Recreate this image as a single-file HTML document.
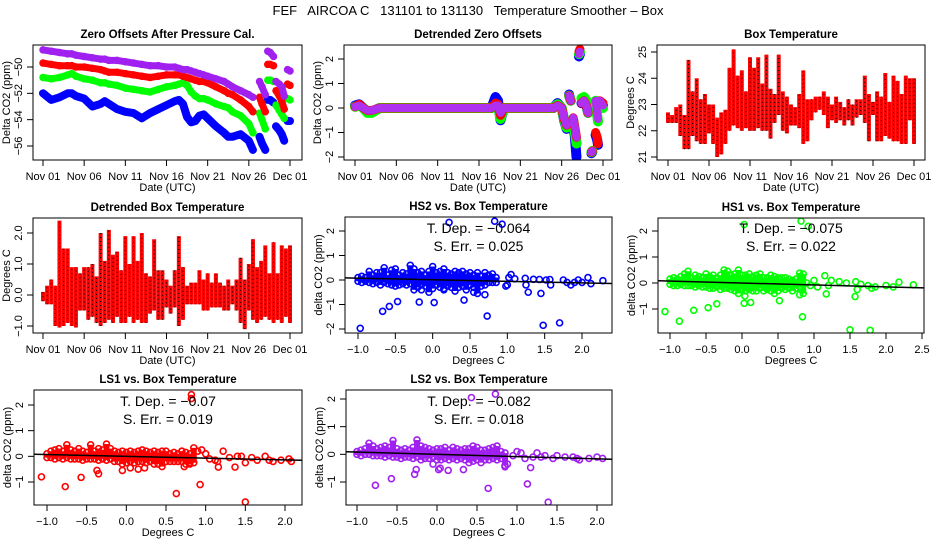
<!DOCTYPE html>
<html><head><meta charset="utf-8"><style>
body{margin:0;background:#fff;}
svg{display:block;font-family:"Liberation Sans",sans-serif;}
</style></head><body>
<svg id="chartsvg" width="936" height="540" viewBox="0 0 936 540">
<rect width="936" height="540" fill="#fff"/>
<text x="468" y="15" font-size="13" text-anchor="middle" style="white-space:pre" xml:space="preserve">FEF   AIRCOA C   131101 to 131130   Temperature Smoother – Box</text>
</svg>
<script>
// ---------- data ----------
const fefDateTicks=[0,5,10,15,20,25,30];
const fefDateLabels=["Nov 01","Nov 06","Nov 11","Nov 16","Nov 21","Nov 26","Dec 01"];
const p1Days=[0,1,2,3,3.5,4,5,6,7,7.5,8,9,10,11,12,13,14,15,16,16.5,17,17.5,18,18.5,19,19.5,20,21,22,22.5,23,24,25,25.5,null,26.3,26.6,27,null,27.3,27.6,28,null,28.3,28.7,29,29.3,null,29.7,30];
const p1Purple=[-48.7,-48.8,-48.9,-49,-49,-49.1,-49.2,-49.3,-49.4,-49.4,-49.5,-49.5,-49.6,-49.7,-49.8,-49.9,-49.9,-50,-50,-50.1,-50.2,-50.2,-50.3,-50.4,-50.5,-50.6,-50.7,-50.9,-51.1,-51.3,-51.5,-51.8,-52.1,-52.3,null,-51.1,-51.5,-52.1,null,-48.8,-48.9,-49.2,null,-51.1,-51.3,-51.5,-52.2,null,-50.2,-50.3];
const p1Red=[-49.7,-49.8,-49.9,-49.9,-49.9,-50,-50,-50.1,-50.2,-50.3,-50.4,-50.4,-50.5,-50.6,-50.7,-50.8,-50.7,-50.6,-50.6,-50.6,-50.7,-50.8,-50.9,-51,-51.1,-51.1,-51.2,-51.5,-51.8,-52,-52.1,-52.5,-53,-53.4,null,-52.3,-52.8,-53.4,null,-49.8,-49.8,-49.9,null,-51.8,-52.2,-52.6,-53.2,null,-51.3,-51.4];
const p1Green=[-50.8,-50.9,-50.8,-50.6,-50.5,-50.7,-50.9,-51,-51.2,-51.2,-51.3,-51.4,-51.6,-51.7,-51.8,-51.9,-51.7,-51.5,-51.4,-51.3,-51.2,-51.4,-51.9,-52.2,-52.4,-52.4,-52.5,-52.8,-53,-53.1,-53.4,-53.7,-54.3,-55,null,-53.5,-54,-54.7,null,-51,-51,-51.1,null,-52.9,-53.3,-53.6,-53.9,null,-52.4,-52.5];
const p1Blue=[-52,-52.5,-52.3,-52,-52,-52.2,-52.4,-53,-52.8,-52.6,-52.8,-53.2,-53.4,-53.5,-53.9,-53.5,-53.2,-52.9,-52.6,-52.5,-52.8,-53.8,-54.2,-54.1,-53.7,-53.6,-53.9,-54.5,-55,-55.3,-55.3,-55.1,-55.6,-56.3,null,-55.3,-55.8,-56.3,null,-52.5,-52.5,-52.7,null,-54.5,-54.8,-55.1,-55.6,null,-54.1,-54.1];

const p2Days=[0,0.5,1,1.5,2,3,4,5,6,7,8,9,10,11,12,13,14,15,16,16.5,17,17.3,17.6,18,19,20,21,22,23,24,24.5,25,25.3,25.6,null,25.9,26,26.1,null,26.4,26.6,26.8,null,27.1,27.2,null,27.4,27.7,28,28.2,null,28.6,28.7,null,29.1,29.3,29.4,null,29.6,30];
const p2Purple=[0.05,0.1,0,-0.1,-0.1,0,0,0,0,0,0,0,0,0,0,0,0,0,0,0,0.1,0.1,-0.2,0,0,0,0,0,0,0,0.1,0,-0.4,-0.7,null,0.5,0.4,0.3,null,-0.4,-0.8,-1.2,null,2.2,2.3,null,0.2,0.3,0.1,-0.2,null,-1.8,-1.75,null,0.3,-0.2,-0.45,null,0.3,0.1];
const p2Blue=[0.1,0.15,0,-0.15,-0.15,0,0,0,0,0,0,0,0,0,0,0,0,0,0,0,0.45,0.3,-0.5,0,0,0,0,0,0,0,0.2,0,-0.5,-0.85,null,0.55,0.4,0.3,null,-0.5,-1.2,-2.0,null,2.1,2.2,null,0.2,0.3,0.1,-0.2,null,-1.85,-1.8,null,-1.1,-1.3,-1.5,null,0.2,0.1];
const p2Green=[0.05,0.1,0,-0.2,-0.2,0,0,0,0,0,0,0,0,0,0,0,0,0,0,0,0.15,0.1,-0.45,0,0,0,0,0,0,0,0.15,0,-0.45,-0.8,null,0.5,0.4,0.3,null,-0.5,-1.0,-1.45,null,2.2,2.3,null,0.4,0.45,0.3,-0.2,null,-1.8,-1.75,null,0.3,-0.3,-0.55,null,0.25,0];
const p2Red=[0.05,0.15,0,-0.1,-0.1,0,0,0,0,0,0,0,0,0,0,0,0,0,0,0,0.2,0.15,-0.3,0,0,0,0,0,0,0,0.1,0,-0.45,-0.7,null,0.5,0.4,0.3,null,-0.4,-0.8,-1.2,null,2.3,2.4,null,0.2,0.3,0.1,-0.2,null,-1.8,-1.75,null,-1.0,-1.2,-1.45,null,0.3,0.2];

const p3Lo=[22.3,22.3,22.3,21.8,21.3,21.3,21.8,21.6,21.5,21.5,21.9,21.5,21,21.1,21.5,22,22.2,22.1,22,22.1,22,22,22.1,22,22,21.7,22.3,22.6,22,21.9,22.2,22.2,22.1,21.5,21.6,22.4,22.7,22.8,22.6,22.1,22.4,22.3,22.4,22.2,22.4,22.2,22.5,22.6,22.3,21.6,22.6,21.6,21.6,21.8,21.7,21.6,21.6,21.5,21.5,22.4,21.5];
const p3Hi=[22.7,22.6,22.9,23,22.6,24.7,23.5,24,23.2,23.4,23,23,22.5,22.7,22.8,24.4,25.1,24.1,24.3,23.5,24.8,24.4,24.8,23.8,24.9,23.6,23.4,24.9,23.5,23.3,23,22.9,23.4,24.3,23.2,23.2,23.3,23.3,23.5,23.3,23,23.3,23.1,22.9,23.2,23,23.2,23.2,24.1,23.4,23.1,23.5,23.3,24.2,23.1,24.1,23.9,23.4,24.1,24,24];
const p4Lo=[-0.2,-0.3,-0.3,-1,-1.05,-1,-0.9,-1,-1.05,-0.5,-0.5,-0.8,-0.7,-0.9,-1,-0.9,-0.8,-0.9,-0.7,-0.9,-0.9,-0.7,-0.9,-0.8,-0.9,-0.9,-0.6,-0.5,-0.8,-0.8,-0.4,-0.6,-0.4,-1,-0.8,-0.3,-0.3,-0.3,-0.3,-0.5,-0.5,-0.4,-0.4,-0.4,-0.5,-0.5,-0.3,-0.5,-0.9,-1.1,-0.5,-0.8,-0.9,-0.8,-0.7,-0.8,-0.9,-0.8,-0.9,-0.7,-0.9];
const p4Hi=[0.1,0.3,0.5,0.3,2.4,1.5,1.5,0.9,0.9,0.7,0.9,0.9,1,0.6,2,1.1,2.1,1.3,1.4,0.8,1.9,1,1.9,1.1,2,0.7,0.6,1.8,0.8,0.8,0.5,0.3,0.8,1.9,0.9,0.3,0.4,0.4,0.8,0.5,0.7,0.4,0.7,0.4,0.3,0.5,0.3,0.5,1.2,0.5,1,1.8,0.9,1.1,1.6,0.7,1.7,0.7,1.6,1.5,1.6];

const clusterX=[-1.0,-0.95,-0.9,-0.85,-0.8,-0.75,-0.7,-0.65,-0.6,-0.55,-0.5,-0.45,-0.4,-0.35,-0.3,-0.25,-0.2,-0.15,-0.1,-0.05,0,0.05,0.1,0.15,0.2,0.25,0.3,0.35,0.4,0.45,0.5,0.55,0.6,0.65,0.7,0.75,0.8,0.85];
const hs2Hi=[0.1,0.15,0.1,0.35,0.2,0.3,0.3,0.5,0.2,0.4,0.45,0.2,0.3,0.25,0.6,0.45,0.3,0.35,0.2,0.35,0.55,0.3,0.35,0.45,0.3,0.25,0.35,0.3,0.35,0.25,0.3,0.2,0.3,0.15,0.3,0.2,0.25,0.1];
const hs2Lo=[-0.05,-0.1,-0.05,-0.1,-0.15,-0.1,-0.2,-0.1,-0.15,-0.2,-0.25,-0.2,-0.15,-0.2,-0.15,-0.4,-0.3,-0.2,-0.25,-0.5,-0.35,-0.2,-0.3,-0.35,-0.25,-0.3,-0.45,-0.3,-0.25,-0.4,-0.2,-0.3,-0.55,-0.25,-0.2,-0.1,-0.1,-0.1];
const hs2OX=[-0.97,-0.67,-0.58,-0.47,-0.18,0.02,0.42,0.73,1.48,1.7,0.22,0.83,0.93,1.05,1.1,1.24,1.25,1.28,1.35,1.45,1.43,1.52,1.57,1.58,1.75,1.8,1.85,1.9,1.95,2.0,2.08,2.12,2.28,1.0,0.98,1.02,0.55,0.7,0.15,-0.15];
const hs2OY=[-1.97,-1.28,-1.08,-0.88,-0.9,-0.92,-0.82,-1.47,-1.85,-1.75,2.35,2.4,2.28,0.22,0.05,0.07,-0.2,-0.5,0.03,-0.55,0.02,0,0.02,-0.2,0,-0.1,-0.2,-0.1,0,-0.1,0.1,-0.15,-0.03,-0.2,-0.25,0.1,-0.5,-0.6,-0.4,-0.4];
const hs1Hi=[0.15,0.2,0.15,0.25,0.35,0.45,0.2,0.3,0.25,0.2,0.35,0.25,0.3,0.2,0.3,0.5,0.45,0.3,0.35,0.5,0.3,0.3,0.35,0.25,0.3,0.35,0.2,0.2,0.3,0.25,0.2,0.2,0.2,0.15,0.1,0.15,0.38,0.35];
const hs1Lo=[-0.05,-0.1,-0.1,-0.05,-0.1,-0.1,-0.1,-0.15,-0.1,-0.15,-0.15,-0.2,-0.2,-0.15,-0.25,-0.2,-0.2,-0.25,-0.3,-0.4,-0.25,-0.3,-0.25,-0.3,-0.3,-0.2,-0.3,-0.25,-0.3,-0.4,-0.3,-0.2,-0.25,-0.2,-0.3,-0.2,-0.15,-0.4];
const hs1OX=[-1.07,-0.87,-0.67,-0.47,-0.35,0.03,0.12,0.04,0.52,0.8,0.84,0.03,0.82,0.92,1.5,1.57,1.78,1.15,1.17,1.0,1.05,1.2,1.24,1.35,1.45,1.58,1.6,1.65,1.75,1.8,1.85,2.0,2.1,2.18,2.38,0.9,0.95];
const hs1OY=[-1.1,-1.47,-1.05,-0.95,-0.8,-0.78,-0.75,-0.5,-0.68,-0.45,-1.3,2.25,2.38,2.18,-1.8,-0.52,-1.82,0.28,-0.42,0.1,-0.15,-0.1,0.1,0.05,0,0.05,-0.25,-0.05,-0.1,-0.2,-0.15,-0.1,-0.15,0.03,-0.07,0,-0.1];
const ls1Hi=[0.1,0.2,0.25,0.3,0.2,0.45,0.25,0.2,0.3,0.2,0.15,0.45,0.2,0.3,0.25,0.48,0.3,0.2,0.15,0.2,0.15,0.2,0.15,0.2,0.25,0.2,0.15,0.2,0.15,0.2,0.2,0.1,0.15,0.1,0.2,0.15,0.1,0.33];
const ls1Lo=[-0.05,-0.05,-0.1,-0.05,-0.1,-0.05,-0.1,-0.1,-0.1,-0.15,-0.1,-0.1,-0.1,-0.15,-0.1,-0.15,-0.1,-0.2,-0.2,-0.3,-0.25,-0.2,-0.25,-0.2,-0.2,-0.25,-0.2,-0.3,-0.3,-0.4,-0.2,-0.2,-0.2,-0.2,-0.2,-0.3,-0.3,-0.25];
const ls1OX=[-1.07,-0.77,-0.57,-0.37,-0.35,-0.05,0.05,0.15,0.23,0.63,0.93,0.82,0.82,1.5,1.16,1.37,0.9,0.95,1.0,1.05,1.12,1.15,1.22,1.3,1.4,1.45,1.5,1.58,1.65,1.75,1.8,1.85,1.95,2.05,2.08,0.7,0.73,0.8];
const ls1OY=[-0.8,-1.18,-0.82,-0.55,-0.68,-0.55,-0.45,-0.5,-0.45,-1.45,-1.1,2.4,2.25,-1.78,-0.42,-0.42,0.2,0.25,0.1,-0.1,-0.15,-0.2,0.2,-0.05,0,0,-0.25,-0.05,-0.15,0,-0.15,-0.2,-0.15,-0.1,-0.2,0.2,-0.4,-0.25];
const ls2Hi=[0.1,0.15,0.2,0.4,0.3,0.2,0.25,0.3,0.25,0.5,0.2,0.15,0.2,0.15,0.25,0.52,0.3,0.25,0.2,0.15,0.2,0.2,0.25,0.15,0.25,0.2,0.15,0.2,0.2,0.3,0.25,0.15,0.15,0.2,0.25,0.3,0.1,0.05];
const ls2Lo=[0,-0.05,0,0,-0.05,-0.05,-0.05,-0.1,-0.05,-0.1,-0.1,-0.15,-0.1,-0.1,-0.15,-0.1,-0.2,-0.15,-0.15,-0.1,-0.2,-0.2,-0.15,-0.2,-0.15,-0.2,-0.15,-0.2,-0.3,-0.25,-0.2,-0.3,-0.2,-0.2,-0.15,-0.2,-0.15,-0.4];
const ls2OX=[-0.77,-0.57,-0.28,-0.26,-0.05,0.02,0.04,0.14,0.33,0.64,1.13,1.17,1.39,0.43,0.73,0.85,0.88,0.95,1.0,1.05,1.1,1.2,1.25,1.3,1.35,1.45,1.5,1.6,1.7,1.75,1.78,1.9,2.0,2.07];
const ls2OY=[-1.12,-0.88,-0.72,-0.55,-0.35,-0.55,-0.5,-0.58,-0.55,-1.23,-1.07,-0.48,-1.73,2.05,2.18,-0.45,-0.35,-0.05,0.1,0.05,-0.15,-0.1,0.05,-0.1,-0.05,-0.15,-0.05,-0.1,-0.1,-0.15,-0.2,-0.15,-0.1,-0.15];
const fitSlopes=[-0.064,-0.075,-0.07,-0.082];
const fitIntercepts=[0.01,0.0,0.0,0.0];
const fitErrs=["0.025","0.022","0.019","0.018"];

(function(){
const NS="http://www.w3.org/2000/svg";
const root=document.getElementById('chartsvg');
function mk(tag,attrs,parent){const e=document.createElementNS(NS,tag);for(const k in attrs)e.setAttribute(k,attrs[k]);(parent||root).appendChild(e);return e;}
function lin(p0,v0,p1,v1){return function(v){return p0+(v-v0)*(p1-p0)/(v1-v0);};}
function tx(x,y,s,attrs,parent){const t=mk('text',Object.assign({x:x,y:y},attrs||{}),parent);t.textContent=s;return t;}

function panel(sp){
  const g=mk('g',{});
  
  
  const sx=lin(sp.xp[0],sp.xv[0],sp.xp[1],sp.xv[1]);
  const sy=lin(sp.yp[0],sp.yv[0],sp.yp[1],sp.yv[1]);
  const cx=(sp.l+sp.r)/2;
  const ttl=tx(cx,sp.t-7,sp.title,{'font-size':11.5,'font-weight':'bold','text-anchor':'middle'},g);
  
  
  const xa=mk('g',{},g);
  
  
  mk('line',{x1:sx(sp.xt[0]),x2:sx(sp.xt[sp.xt.length-1]),y1:sp.b,y2:sp.b,stroke:'#000'},xa);
  sp.xt.forEach(function(v,i){const X=sx(v);mk('line',{x1:X,x2:X,y1:sp.b,y2:sp.b+6,stroke:'#000'},xa);
    const lb=tx(X,sp.b+20,sp.xl[i],{'font-size':11,'text-anchor':'middle'},xa);
    
    });
  const xtt=tx(cx,sp.b+31,sp.xTitle,{'font-size':11,'text-anchor':'middle'},xa);
  
  
  const ya=mk('g',{},g);
  
  
  mk('line',{x1:sp.l,x2:sp.l,y1:sy(sp.yt[0]),y2:sy(sp.yt[sp.yt.length-1]),stroke:'#000'},ya);
  sp.yt.forEach(function(v,i){const Y=sy(v);mk('line',{x1:sp.l-6,x2:sp.l,y1:Y,y2:Y,stroke:'#000'},ya);
    const lx=sp.l-11;
    const lb=tx(lx,Y,sp.yl[i],{'font-size':11,'text-anchor':'middle',transform:'rotate(-90 '+lx+' '+Y+')'},ya);
    
    });
  const yy=(sp.t+sp.b)/2, yx=sp.l-23;
  const ytl=tx(yx,yy,sp.yTitle,{'font-size':11,'text-anchor':'middle',transform:'rotate(-90 '+yx+' '+yy+')'},ya);
  
  
  const clipId='clip-'+sp.name;
  const cp=mk('clipPath',{id:clipId},g);
  mk('rect',{x:sp.l,y:sp.t,width:sp.r-sp.l,height:sp.b-sp.t},cp);
  const plot=mk('g',{'clip-path':'url(#'+clipId+')'},g);
  
  
  sp.draw(plot,sx,sy);
  mk('rect',{x:sp.l,y:sp.t,width:sp.r-sp.l,height:sp.b-sp.t,fill:'none',stroke:'#000'},g);
  if(sp.ann){
    const a1=tx(cx,sp.annY,'T. Dep. =  −'+String(-sp.ann.slope),{'font-size':14,'text-anchor':'middle'},g);
    
    
    const a2=tx(cx,sp.annY+18,'S. Err. = '+sp.ann.err,{'font-size':14,'text-anchor':'middle'},g);
    
    
  }
}
function series(plot,sx,sy,days,vals,color,w,name){
  let d='',pen=false;
  days.forEach(function(dd,i){const v=vals[i];
    if(dd===null||v===null||v===undefined){pen=false;return;}
    d+=(pen?'L':'M')+sx(dd).toFixed(1)+' '+sy(v).toFixed(1);pen=true;});
  const p=mk('path',{d:d,fill:'none',stroke:color,'stroke-width':w,'stroke-linecap':'round','stroke-linejoin':'round'},plot);
  
  
  days.forEach(function(dd,i){const v=vals[i];if(dd===null||v===null||v===undefined)return;
    mk('circle',{cx:sx(dd),cy:sy(v),r:3,fill:'none',stroke:color,'stroke-width':1.5},plot);});
}
function ranges(plot,sx,sy,lo,hi,name){
  lo.forEach(function(l,i){if(hi[i]===undefined)return;const X=sx(i*0.5);
    const b=mk('line',{x1:X,x2:X,y1:sy(l),y2:sy(hi[i]),stroke:'#ff0000','stroke-width':4},plot);
    
    
    mk('line',{x1:X,x2:X,y1:sy(l),y2:sy(hi[i]),stroke:'#000','stroke-width':1,'stroke-dasharray':'1 3'},plot);});
}
function scatter(plot,sx,sy,hi,lo,ox,oy,color,k){
  clusterX.forEach(function(x,i){if(hi[i]===undefined||lo[i]===undefined)return;const X=sx(x);
    const b=mk('line',{x1:X,x2:X,y1:sy(hi[i]),y2:sy(lo[i]),stroke:color,'stroke-width':6},plot);
    
    
    mk('circle',{cx:X,cy:sy(hi[i]),r:3,fill:'none',stroke:color,'stroke-width':1.6},plot);
    mk('circle',{cx:X,cy:sy(lo[i]),r:3,fill:'none',stroke:color,'stroke-width':1.6},plot);});
  ox.forEach(function(x,i){if(oy[i]===undefined)return;
    const c=mk('circle',{cx:sx(x),cy:sy(oy[i]),r:3,fill:'none',stroke:color,'stroke-width':1.6},plot);
    
    });
  const x0=-2,x1=4;
  const ln=mk('line',{x1:sx(x0),y1:sy(fitIntercepts[k]+fitSlopes[k]*x0),x2:sx(x1),y2:sy(fitIntercepts[k]+fitSlopes[k]*x1),stroke:'#000','stroke-width':1.5},plot);
  
  
}
const degT=[-1,-0.5,0,0.5,1,1.5,2], degL=["−1.0","−0.5","0.0","0.5","1.0","1.5","2.0"];

panel({name:'zero-offsets-panel',l:33,r:302,t:45,b:160,xp:[43,290],xv:[0,30],yp:[67,146],yv:[-50,-56],
  xt:fefDateTicks,xl:fefDateLabels,yt:[-56,-54,-52,-50],yl:["−56","−54","−52","−50"],title:'Zero Offsets After Pressure Cal.',xTitle:'Date (UTC)',yTitle:'Delta CO2 (ppm)',
  draw:function(p,sx,sy){series(p,sx,sy,p1Days,p1Blue,'#0000ff',8,'series-hs2');series(p,sx,sy,p1Days,p1Green,'#00ff00',7,'series-hs1');
    series(p,sx,sy,p1Days,p1Red,'#ff0000',7,'series-ls1');series(p,sx,sy,p1Days,p1Purple,'#a020f0',7,'series-ls2');}});
panel({name:'detrended-offsets-panel',l:344,r:612,t:45,b:160,xp:[355,603],xv:[0,30],yp:[59,157],yv:[2,-2],
  xt:fefDateTicks,xl:fefDateLabels,yt:[-2,-1,0,1,2],yl:["−2","−1","0","1","2"],title:'Detrended Zero Offsets',xTitle:'Date (UTC)',yTitle:'Delta CO2 (ppm)',
  draw:function(p,sx,sy){series(p,sx,sy,p2Days,p2Blue,'#0000ff',10,'series-hs2');series(p,sx,sy,p2Days,p2Green,'#00ff00',10,'series-hs1');
    series(p,sx,sy,p2Days,p2Red,'#ff0000',9,'series-ls1');series(p,sx,sy,p2Days,p2Purple,'#b030f0',8,'series-ls2');}});
panel({name:'box-temperature-panel',l:657,r:925,t:45,b:160,xp:[668,914],xv:[0,30],yp:[52,157],yv:[25,21],
  xt:fefDateTicks,xl:fefDateLabels,yt:[21,22,23,24,25],yl:["21","22","23","24","25"],title:'Box Temperature',xTitle:'Date (UTC)',yTitle:'Degrees C',
  draw:function(p,sx,sy){ranges(p,sx,sy,p3Lo,p3Hi,'temp-range');}});
panel({name:'detrended-box-temp-panel',l:33,r:302,t:218,b:333,xp:[43,290],xv:[0,30],yp:[233,326],yv:[2,-1],
  xt:fefDateTicks,xl:fefDateLabels,yt:[-1,0,1,2],yl:["−1.0","0.0","1.0","2.0"],title:'Detrended Box Temperature',xTitle:'Date (UTC)',yTitle:'Degrees C',
  draw:function(p,sx,sy){ranges(p,sx,sy,p4Lo,p4Hi,'temp-range');}});
panel({name:'hs2-vs-temp-panel',l:345,r:612,t:217,b:333,xp:[358,582],xv:[-1,2],yp:[231,329],yv:[2,-2],
  xt:degT,xl:degL,yt:[-2,-1,0,1,2],yl:["−2","−1","0","1","2"],title:'HS2 vs. Box Temperature',xTitle:'Degrees C',yTitle:'delta CO2 (ppm)',
  ann:{slope:fitSlopes[0],err:fitErrs[0]},annY:233,
  draw:function(p,sx,sy){scatter(p,sx,sy,hs2Hi,hs2Lo,hs2OX,hs2OY,'#0000ff',0);}});
panel({name:'hs1-vs-temp-panel',l:658,r:924,t:218,b:333,xp:[670,922],xv:[-1,2.5],yp:[231,309],yv:[2,-1],
  xt:[-1,-0.5,0,0.5,1,1.5,2,2.5],xl:["−1.0","−0.5","0.0","0.5","1.0","1.5","2.0","2.5"],yt:[-1,0,1,2],yl:["−1","0","1","2"],title:'HS1 vs. Box Temperature',xTitle:'Degrees C',yTitle:'delta CO2 (ppm)',
  ann:{slope:fitSlopes[1],err:fitErrs[1]},annY:233,
  draw:function(p,sx,sy){scatter(p,sx,sy,hs1Hi,hs1Lo,hs1OX,hs1OY,'#00ff00',1);}});
panel({name:'ls1-vs-temp-panel',l:34,r:302,t:390,b:505,xp:[47,285],xv:[-1,2],yp:[405,482],yv:[2,-1],
  xt:degT,xl:degL,yt:[-1,0,1,2],yl:["−1","0","1","2"],title:'LS1 vs. Box Temperature',xTitle:'Degrees C',yTitle:'delta CO2 (ppm)',
  ann:{slope:fitSlopes[2],err:fitErrs[2]},annY:406,
  draw:function(p,sx,sy){scatter(p,sx,sy,ls1Hi,ls1Lo,ls1OX,ls1OY,'#ff0000',2);}});
panel({name:'ls2-vs-temp-panel',l:346,r:612,t:390,b:505,xp:[357,597],xv:[-1,2],yp:[399,482],yv:[2,-1],
  xt:degT,xl:degL,yt:[-1,0,1,2],yl:["−1","0","1","2"],title:'LS2 vs. Box Temperature',xTitle:'Degrees C',yTitle:'delta CO2 (ppm)',
  ann:{slope:fitSlopes[3],err:fitErrs[3]},annY:406,
  draw:function(p,sx,sy){scatter(p,sx,sy,ls2Hi,ls2Lo,ls2OX,ls2OY,'#a020f0',3);}});
})();
</script>
</body></html>
